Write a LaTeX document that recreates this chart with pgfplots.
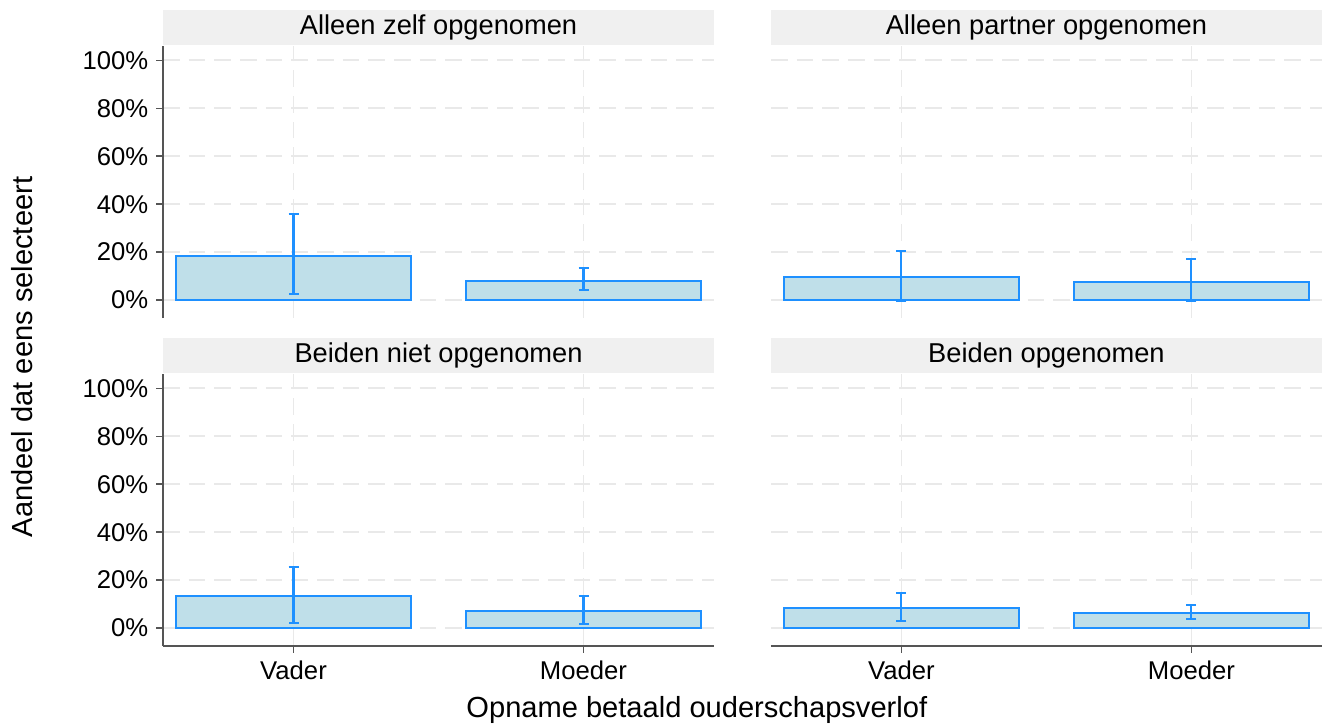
\documentclass[border=0pt]{standalone}
\usepackage{pgfplots}
\pgfplotsset{compat=1.18}
\usepackage{fontspec}
\setmainfont{Liberation Sans}
\definecolor{barfill}{RGB}{191,223,233}
\definecolor{baredge}{RGB}{30,144,255}
\definecolor{gridgray}{RGB}{233,233,233}
\definecolor{stripgray}{RGB}{240,240,240}
\definecolor{axisgray}{RGB}{85,85,85}

\pgfplotsset{
  panel/.style={
    scale only axis, width=8.524cm, height=4.208cm,
    xmin=0.55, xmax=2.45, ymin=-7.5, ymax=106,
    axis lines*=left,
    axis line style={-, axisgray, line width=0.7pt},
    xtick={1,2}, xticklabels={Vader,Moeder},
    ytick={0,20,...,100},
    yticklabels={0\%,20\%,40\%,60\%,80\%,100\%},
    tick align=outside, major tick length=3pt,
    tick style={axisgray, line width=0.7pt},
    grid=major,
    grid style={gridgray, dash pattern=on 7.3pt off 4pt, line width=0.8pt},
    ticklabel style={font=\fontsize{11.3}{13}\selectfont},
    every axis title/.style={at={(0.5,1)}, anchor=south, yshift=0.4pt,
      fill=stripgray, minimum width=8.524cm, minimum height=0.54cm,
      inner sep=0pt, font=\fontsize{12}{14}\selectfont},
    ybar, bar width=0.81,
  },
  toprow/.style={x axis line style={draw=none}, xtick style={draw=none}, xticklabels={}},
  rightcol/.style={y axis line style={draw=none}, ytick style={draw=none}, yticklabels={}},
  bars/.style={fill=barfill, draw=baredge, line width=0.9pt,
    error bars/.cd, y dir=both, y explicit,
    error bar style={draw=baredge, line width=0.9pt},
    error mark options={draw=baredge, rotate=90, mark size=2.2pt, line width=0.9pt}},
}

\begin{document}
\begin{tikzpicture}
\useasboundingbox (0,0) rectangle (20.498cm,11.247cm);

% top left
\begin{axis}[panel, toprow, at={(2.522cm,6.327cm)}, anchor=south west,
  title={Alleen zelf opgenomen}]
  \addplot[bars] coordinates {(1,18.5) += (0,17.5) -= (0,16) (2,8) += (0,5.5) -= (0,4)};
\end{axis}

% top right
\begin{axis}[panel, toprow, rightcol, at={(11.927cm,6.327cm)}, anchor=south west,
  title={Alleen partner opgenomen}]
  \addplot[bars] coordinates {(1,9.5) += (0,11) -= (0,10) (2,7.5) += (0,9.5) -= (0,7.8)};
\end{axis}

% bottom left
\begin{axis}[panel, at={(2.522cm,1.253cm)}, anchor=south west,
  title={Beiden niet opgenomen}]
  \addplot[bars] coordinates {(1,13.5) += (0,12) -= (0,11.5) (2,7) += (0,6.5) -= (0,5.5)};
\end{axis}

% bottom right
\begin{axis}[panel, rightcol, at={(11.927cm,1.253cm)}, anchor=south west,
  title={Beiden opgenomen}]
  \addplot[bars] coordinates {(1,8.2) += (0,6.3) -= (0,5.4) (2,6.2) += (0,3.3) -= (0,2.5)};
\end{axis}

\node[rotate=90, font=\fontsize{12.8}{15}\selectfont] at (0.34cm,5.724cm) {Aandeel dat eens selecteert};
\node[font=\fontsize{12.8}{15}\selectfont] at (10.78cm,0.263cm) {Opname betaald ouderschapsverlof};
\end{tikzpicture}
\end{document}
